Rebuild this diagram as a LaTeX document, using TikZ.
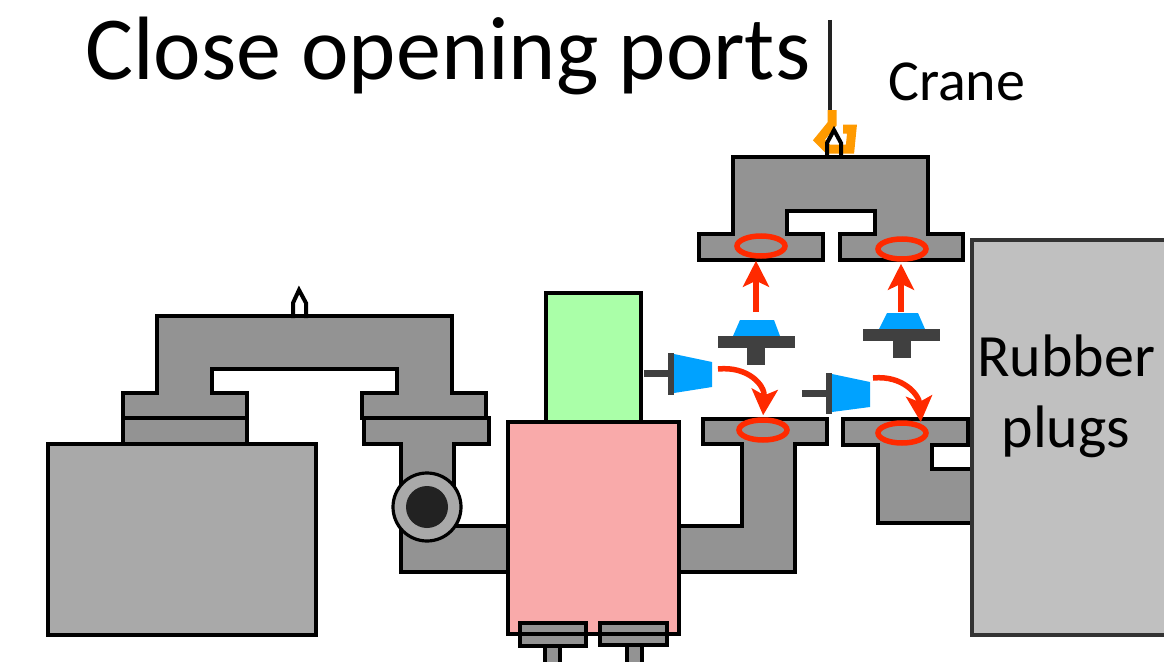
\documentclass[tikz,border=0pt]{standalone}
\usepackage{fontspec}
\setmainfont{Carlito}
\usetikzlibrary{arrows.meta,shapes.geometric}

\definecolor{rohrgrau}{HTML}{939393}
\definecolor{tankgrau}{HTML}{A9A9A9}
\definecolor{kistengrau}{HTML}{C0C0C0}
\definecolor{griffgrau}{HTML}{404040}
\definecolor{seilgrau}{HTML}{222222}
\definecolor{modulrot}{HTML}{F9AAAA}
\definecolor{modulgruen}{HTML}{AAFFA8}
\definecolor{stopfenblau}{HTML}{00A2FF}
\definecolor{ringrot}{HTML}{FF2A00}
\definecolor{hakenorange}{HTML}{FF9A00}

\begin{document}
\begin{tikzpicture}[
    x=1pt, y=-1pt,
    rohr/.style={fill=rohrgrau, draw=black, line width=3.2pt},
    ring/.style={ellipse, draw=ringrot, line width=5.5pt, minimum width=48pt,
                 minimum height=20pt, inner sep=0pt},
    pfeil/.style={draw=ringrot, line width=5.5pt, shorten >=2pt,
                  -{Stealth[length=26pt, width=26pt, inset=6pt]}},
    oese/.style={draw=black, line width=4pt},
    every node/.style={inner sep=0pt}
]

% --- Bildrahmen (Pixelmass, y nach unten) ---
\useasboundingbox (0,0) rectangle (1164,661);

% --- Titel und Kran ---
\node[anchor=base west, font=\fontsize{90}{94}\selectfont] (titel) at (85,80) {Close opening ports};
\node[anchor=base west, font=\fontsize{58}{60}\selectfont] (kran) at (888,100) {Crane};
\draw[seilgrau, line width=4.5pt] (830,20) -- (830,112);

% --- Traverse am Kran (rechts oben) ---
\draw[rohr] (733,157) -- (928,157) -- (928,234) -- (963,234) -- (963,260) -- (840,260)
    -- (840,234) -- (875,234) -- (875,211) -- (787,211) -- (787,234) -- (823,234)
    -- (823,260) -- (699,260) -- (699,234) -- (733,234) -- cycle;
\draw[hakenorange, line width=9pt] (832,110) -- (832,124) -- (819,140) -- (828,149)
    -- (850,149) -- (852,129) -- (843,129);
\draw[oese] (827,158) -- (827,143) -- (834,130) -- (841,143) -- (841,158);

% --- Rahmen links mit Tank ---
\draw[rohr, fill=tankgrau] (48,444) rectangle (316,635);
\draw[rohr] (123,418) rectangle (247,444);
\draw[rohr] (157,316) -- (452,316) -- (452,393) -- (486,393) -- (486,418) -- (362,418)
    -- (362,393) -- (397,393) -- (397,369) -- (212,369) -- (212,393) -- (247,393)
    -- (247,418) -- (123,418) -- (123,393) -- (157,393) -- cycle;
\draw[oese] (293,318) -- (293,303) -- (299,290) -- (306,303) -- (306,318);

% --- Rohrbogen links mit Ventil ---
\draw[rohr] (364,418) -- (489,418) -- (489,444) -- (454,444) -- (454,526) -- (508,526)
    -- (508,572) -- (401,572) -- (401,444) -- (364,444) -- cycle;
\draw[rohr, fill=tankgrau] (427,507) circle[radius=34];
\fill[seilgrau] (427,507) circle[radius=21];

% --- Rohrstuecke rechts ---
\draw[rohr] (703,419) -- (827,419) -- (827,444) -- (795,444) -- (795,572) -- (679,572)
    -- (679,526) -- (742,526) -- (742,444) -- (703,444) -- cycle;
\draw[rohr] (843,419) -- (968,419) -- (968,445) -- (932,445) -- (932,469) -- (972,469)
    -- (972,523) -- (878,523) -- (878,445) -- (843,445) -- cycle;

% --- Modul (gruen/rot) mit Stutzen unten ---
\draw[rohr, fill=modulgruen] (546,293) rectangle (641,422);
\draw[rohr, fill=modulrot] (508,422) rectangle (679,634);
\draw[rohr] (545,640) rectangle (560,668);
\draw[rohr] (520,623) rectangle (586,634);
\draw[rohr] (520,634) rectangle (586,646);
\draw[rohr] (627,640) rectangle (642,668);
\draw[rohr] (600,623) rectangle (667,634);
\draw[rohr] (600,634) rectangle (667,645);

% --- Kiste mit Gummistopfen ---
\draw[fill=kistengrau, draw=black!80, line width=3.2pt] (972,240) rectangle (1170,635);
\node[anchor=base, font=\fontsize{60}{60}\selectfont] (gummiA) at (1066,376) {Rubber};
\node[anchor=base, font=\fontsize{60}{60}\selectfont] (gummiB) at (1066,447) {plugs};

% --- Stopfen (blau) mit Griff ---
\fill[stopfenblau] (733,336) -- (740,320) -- (774,320) -- (780,336) -- cycle;
\fill[griffgrau] (718,336) rectangle (795,348);
\fill[griffgrau] (747,348) rectangle (765,365);
\fill[stopfenblau] (879,329) -- (887,313) -- (918,313) -- (925,329) -- cycle;
\fill[griffgrau] (863,329) rectangle (940,341);
\fill[griffgrau] (893,341) rectangle (911,358);
\draw[griffgrau, line width=7pt] (644,373) -- (669,373);
\fill[griffgrau] (668,353) rectangle (674,395);
\fill[stopfenblau] (674,354) -- (712,362) -- (712,387) -- (674,393) -- cycle;
\draw[griffgrau, line width=7pt] (802,393) -- (827,393);
\fill[griffgrau] (826,373) rectangle (832,414);
\fill[stopfenblau] (832,374) -- (870,382) -- (870,407) -- (832,412) -- cycle;

% --- Dichtringe (Oeffnungen) ---
\node[ring] (ringA) at (761,246) {};
\node[ring] (ringB) at (902,249) {};
\node[ring] (ringC) at (763,430) {};
\node[ring] (ringD) at (902,433) {};

% --- Pfeile: Stopfen in die Oeffnungen ---
\coordinate (kappeA) at (756,312);
\coordinate (kappeB) at (901,312);
\coordinate (kappeC) at (718,369);
\coordinate (kappeD) at (873,378);
\draw[pfeil] (kappeA) -- (kappeA |- ringA.south);
\draw[pfeil] (kappeB) -- (kappeB |- ringB.south);
\draw[pfeil] (kappeC) .. controls (748,366) and (765,385) .. (ringC.north);
\draw[pfeil] (kappeD) .. controls (903,375) and (919,395) .. (ringD.north east);

\end{tikzpicture}
\end{document}
